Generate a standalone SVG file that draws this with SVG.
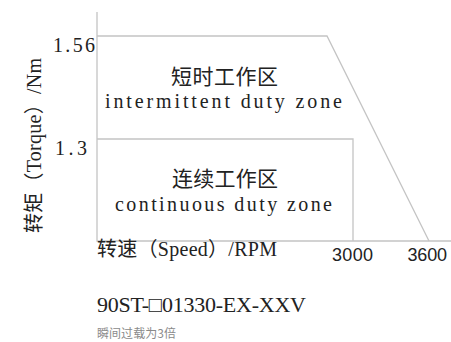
<svg xmlns="http://www.w3.org/2000/svg" width="451" height="342" viewBox="0 0 451 342">
<style>
.ln{stroke:#c4c4c4;stroke-width:1.3;fill:none}
.sf{font-family:"Liberation Serif","Noto Sans CJK SC",serif;fill:#222}
.cj{font-family:"Noto Sans CJK SC",sans-serif;fill:#222}
.ss{font-family:"Liberation Sans","Noto Sans CJK SC",sans-serif;fill:#222}
</style>
<rect width="451" height="342" fill="#fff"/>
<g id="connectors">
<path class="ln" d="M97,12 V241 H451"/>
<path class="ln" d="M97,36 H327 L429,241"/>
<path class="ln" d="M97,139 H353 V241"/>
</g>
<g id="yaxis-label">
<text class="sf" font-size="20" transform="translate(41,145.5) rotate(-90)" text-anchor="middle" textLength="175" lengthAdjust="spacing"><tspan class="cj" font-size="20">转矩（</tspan>Torque<tspan class="cj" font-size="20">）</tspan>/Nm</text>
</g>
<g id="ticks">
<text class="sf" font-size="20" x="53" y="52" textLength="42" lengthAdjust="spacing">1.56</text>
<text class="sf" font-size="20" x="55" y="155" textLength="32" lengthAdjust="spacing">1.3</text>
<text class="ss" font-size="18" x="332" y="260.5" textLength="41" lengthAdjust="spacing">3000</text>
<text class="ss" font-size="18" x="407.5" y="260.5" textLength="39.5" lengthAdjust="spacing">3600</text>
</g>
<g id="intermittent-zone">
<text class="cj" font-size="21" x="171" y="83.5" textLength="107" lengthAdjust="spacing">短时工作区</text>
<text class="sf" font-size="20" x="105" y="108" textLength="237" lengthAdjust="spacing">intermittent duty zone</text>
</g>
<g id="continuous-zone">
<text class="cj" font-size="21" x="172" y="185.5" textLength="106" lengthAdjust="spacing">连续工作区</text>
<text class="sf" font-size="20" x="115" y="210.5" textLength="217" lengthAdjust="spacing">continuous duty zone</text>
</g>
<g id="xaxis-label">
<text class="sf" font-size="20" x="97" y="256" textLength="180" lengthAdjust="spacing"><tspan class="cj" font-size="20">转速（</tspan>Speed<tspan class="cj" font-size="20">）</tspan>/RPM</text>
</g>
<g id="model">
<text class="sf" font-size="22" x="97" y="312" textLength="209" lengthAdjust="spacing">90ST-□01330-EX-XXV</text>
</g>
<g id="note">
<text class="cj" font-size="12" x="97" y="337.5" style="fill:#8a8a8a" textLength="79" lengthAdjust="spacing">瞬间过载为3倍</text>
</g>
</svg>
